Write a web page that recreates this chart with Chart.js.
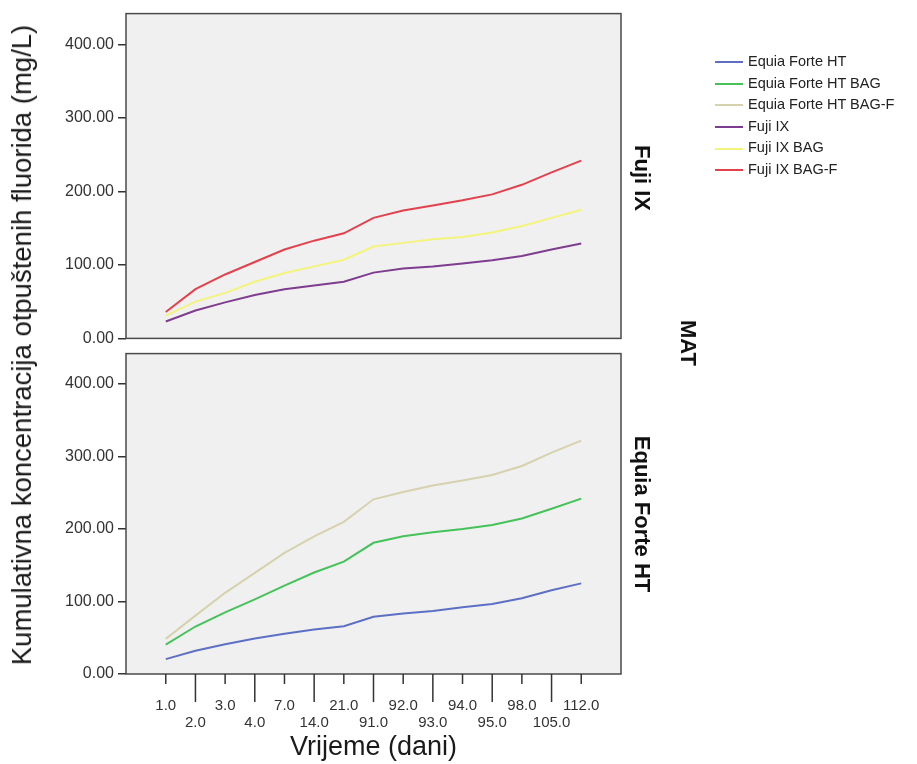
<!DOCTYPE html>
<html>
<head>
<meta charset="utf-8">
<script src="https://cdn.jsdelivr.net/npm/chart.js@4"></script>
<style>
  body { margin: 0; background: #fff; font-family: Arial, "Liberation Sans", sans-serif; }
  #wrap { position: relative; width: 917px; height: 764px; overflow: hidden; }
  canvas { position: absolute; left: 0; }
  .rot { position: absolute; white-space: nowrap; color: #111; }
  #ytitle { left: 22px; top: 345px; font-size: 27.5px; transform: translate(-50%, -50%) rotate(-90deg); color: #1a1a1a; }
  .panel { font-weight: bold; font-size: 22px; transform: translate(-50%, -50%) rotate(90deg); }
  #legend { position: absolute; left: 715px; top: 51px; font-size: 14.5px; color: #222; }
  #legend div { height: 21.6px; line-height: 21.6px; white-space: nowrap; }
  #legend span { display: inline-block; width: 28px; height: 2px; vertical-align: middle; margin-right: 5px; }
</style>
</head>
<body>
<div id="wrap">
  <canvas id="chartFuji" width="917" height="352" style="top:0"></canvas>
  <canvas id="chartEquia" width="917" height="424" style="top:340px"></canvas>
  <div id="ytitle" class="rot">Kumulativna koncentracija otpuštenih fluorida (mg/L)</div>
  <div class="rot panel" style="left:642px; top:178px">Fuji IX</div>
  <div class="rot panel" style="left:688px; top:343px">MAT</div>
  <div class="rot panel" style="left:642px; top:514px">Equia Forte HT</div>
  <div id="legend"></div>
</div>
<script>
// Vrijeme (dani) - kategorije na x osi
const dani = ["1.0", "2.0", "3.0", "4.0", "7.0", "14.0", "21.0", "91.0", "92.0", "93.0", "94.0", "95.0", "98.0", "105.0", "112.0"];
const yTicks = [0, 100, 200, 300, 400];

// Fuji IX panel
const fujiIX = [23, 38, 49, 59, 67, 72, 77, 89.5, 95, 98, 102, 106.5, 112, 121, 129];
const fujiIXBag = [31, 50, 62, 77, 89, 98, 107, 125, 130, 135, 138, 144, 153, 164, 175];
const fujiIXBagF = [36, 67, 87, 104, 121, 133, 143, 164, 174, 181, 188, 196, 209, 226, 242];

// Equia Forte HT panel
const equia = [20.5, 32, 41, 49, 55.5, 61.5, 66, 79, 83.5, 87, 92, 96.5, 104.5, 115.5, 125];
const equiaBag = [40.5, 65.5, 85, 103, 122, 140, 155, 181, 190, 195.5, 200, 205.5, 214.5, 228, 242];
const equiaBagF = [48.5, 80.5, 112, 139.5, 167, 190, 210, 241, 251, 260, 267, 274.5, 287, 305.5, 322];

const seriesNames = ["Equia Forte HT", "Equia Forte HT BAG", "Equia Forte HT BAG-F", "Fuji IX", "Fuji IX  BAG", "Fuji IX BAG-F"];
const seriesColors = ["#5d70c6", "#45c259", "#d6d2ae", "#7e3d8f", "#f4f47c", "#e3414d"];

const toPoints = vals => vals.map((v, i) => ({ x: i, y: v }));

// pozadina i okvir panela
const panelBox = {
  id: "panelBox",
  beforeDraw(chart) {
    const { ctx, chartArea: a } = chart;
    ctx.save();
    ctx.fillStyle = "#f0f0f0";
    ctx.fillRect(a.left, a.top, a.right - a.left, a.bottom - a.top);
    ctx.restore();
  },
  afterDraw(chart) {
    const { ctx, chartArea: a } = chart;
    ctx.save();
    ctx.strokeStyle = "#4a4a4a";
    ctx.lineWidth = 1.5;
    ctx.strokeRect(a.left, a.top, a.right - a.left, a.bottom - a.top);
    ctx.restore();
  }
};

// kratke i duge crtice na x osi (naizmjenično)
const xTickMarks = {
  id: "xTickMarks",
  afterDraw(chart) {
    const x = chart.scales.x;
    const ctx = chart.ctx;
    const b = chart.chartArea.bottom;
    ctx.save();
    ctx.strokeStyle = "#333";
    ctx.lineWidth = 1.5;
    dani.forEach((d, i) => {
      const px = x.getPixelForValue(i);
      ctx.beginPath();
      ctx.moveTo(px, b);
      ctx.lineTo(px, b + (i % 2 ? 28 : 10));
      ctx.stroke();
    });
    ctx.restore();
  }
};

function makeChart(el, idx, datasetsData, showX, padTop, padBottom) {
  return new Chart(el, {
    type: "line",
    data: {
      datasets: idx.map((k, j) => ({
        label: seriesNames[k],
        data: toPoints(datasetsData[j]),
        borderColor: seriesColors[k],
        borderWidth: 2,
        pointRadius: 0,
        tension: 0
      }))
    },
    options: {
      responsive: false,
      animation: false,
      layout: { padding: { left: 50, right: 296, top: padTop, bottom: padBottom } },
      plugins: { legend: { display: false }, tooltip: { enabled: false } },
      scales: {
        x: {
          type: "linear",
          min: -1.34,
          max: 15.34,
          display: showX,
          afterBuildTicks: s => { s.ticks = dani.map((d, i) => ({ value: i })); },
          afterFit: s => { s.height = showX ? 90 : 0; },
          border: { display: false },
          grid: { display: false },
          ticks: {
            autoSkip: false,
            maxRotation: 0,
            padding: 16,
            color: "#333",
            font: { family: "Arial", size: 15, lineHeight: 1.1 },
            callback: v => (v % 2 ? ["", dani[v]] : dani[v])
          },
          title: {
            display: true,
            text: "Vrijeme (dani)",
            color: "#1a1a1a",
            font: { family: "Arial", size: 27 },
            padding: 0
          }
        },
        y: {
          min: 0,
          max: 442,
          afterBuildTicks: s => { s.ticks = yTicks.map(v => ({ value: v })); },
          afterFit: s => { s.width = 76; },
          border: { display: false },
          grid: { drawOnChartArea: false, tickLength: 8, color: "#333", lineWidth: 1.5 },
          ticks: {
            padding: 4,
            color: "#333",
            font: { family: "Arial", size: 16 },
            callback: v => v.toFixed(2)
          }
        }
      }
    },
    plugins: showX ? [panelBox, xTickMarks] : [panelBox]
  });
}

makeChart(document.getElementById("chartFuji"), [3, 4, 5], [fujiIX, fujiIXBag, fujiIXBagF], false, 12, 8);
makeChart(document.getElementById("chartEquia"), [0, 1, 2], [equia, equiaBag, equiaBagF], true, 9, 0);

// legenda
const legend = document.getElementById("legend");
seriesNames.forEach((name, i) => {
  const row = document.createElement("div");
  const line = document.createElement("span");
  line.style.background = seriesColors[i];
  row.appendChild(line);
  row.appendChild(document.createTextNode(name));
  legend.appendChild(row);
});
</script>
</body>
</html>
